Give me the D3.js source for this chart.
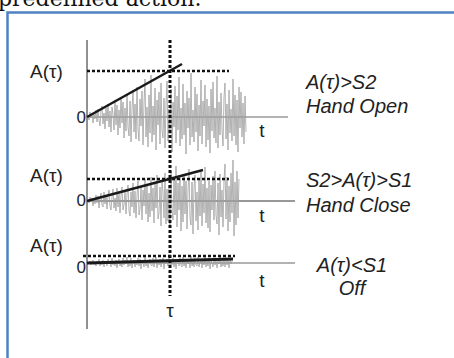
<!DOCTYPE html>
<html>
<head>
<meta charset="utf-8">
<script src="https://cdn.jsdelivr.net/npm/d3@7"></script>
<style>
  body { margin: 0; background: #fff; }
  svg { display: block; }
</style>
</head>
<body>
<div id="chart"></div>
<script>
// signal data (amplitude units ~ 1px)
const tau = 41.5
const thresholds = [46, 22, 7]
const rampEnds = [[47.5, 53], [58, 31], [73, 4]]
const thresholdSpans = [[0, 71], [0, 71], [-2, 74]]
const axisEnds = [100.5, 104, 104]
const conditionTop = ["A(τ)>S2", "S2>A(τ)>S1", "A(τ)<S1"]
const conditionBottom = ["Hand Open", "Hand Close", "Off"]

const noise1 = [0,2,-3,5,-1,4,-6,3,-2,7,
  -5,8,-3,-9,6,11,-7,4,-12,9,
  -4,13,-10,6,-15,10,3,-13,17,-8,
  12,-18,7,-11,20,-6,15,-21,9,-14,
  23,-10,-19,16,-25,8,27,-15,13,-22,
  30,-12,-24,18,-9,26,-28,14,38,-20,
  10,-30,22,-16,42,-25,11,-18,29,-33,
  17,-8,25,-27,34,-14,-21,19,-31,12,
  36,-24,8,-17,28,-35,15,-10,31,-26,
  21,-13,40,-29,9,-22,33,-18,14,-37,
  26,-11,19,-28,44,-20,7,-25,30,-15,
  23,-34,12,-19,37,-27,16,-9,32,-30,
  18,-23,11,-36,28,-14,35,-21,9,-26,
  41,-31,15,-18,24,-12,-29,20,34,-22,
  13,-33,27,-16,8,-24,38,-19,22,-28,
  17,-35,30,-11,25,-20,14,-27,21,-15]
const noise2 = [0,2,-2,4,-1,3,-5,2,-3,6,
  -2,5,-7,3,8,-4,-6,9,-3,5,
  -8,6,11,-5,-9,4,12,-7,3,-10,
  13,-6,8,-12,5,14,-9,-4,11,-13,
  7,16,-10,-15,9,-6,18,-12,10,-17,
  6,20,-14,-8,15,-19,11,-5,22,-13,
  17,-21,8,-16,24,-10,13,-22,19,-7,
  26,-18,-12,14,-25,21,9,-17,28,-23,
  12,-20,16,-27,30,-11,-19,23,-14,35,
  -26,18,-9,24,-30,15,-21,27,-13,20,
  -28,11,32,-17,-24,19,-33,14,26,-20,
  9,-29,22,-15,29,-25,17,-12,34,-22,
  13,-27,20,-31,16,-9,25,-19,30,-14,
  -23,18,-34,27,-16,11,-26,21,37,-18,
  24,-30,15,-21,28,-12,41,-35,19,-24,
  30,-17,22]
const noise3 = [0,1,-1,2,-2,1,3,-2,0,-3,
  2,-1,4,-3,1,-2,3,-4,2,0,
  -3,4,-1,2,-4,5,-2,1,-3,3,
  -5,2,4,-3,0,-4,5,-2,3,-1,
  6,-4,2,-3,5,-5,1,3,-4,2,
  -2,5,-3,4,-6,2,0,-4,6,-3,
  3,-5,1,4,-2,-3,5,-4,2,6,
  -5,3,-2,4,-4,1,5,-6,3,-1,
  4,-3,6,-5,2,-2,5,-4,3,-6,
  1,4,-3,5,-2,-4,6,-3,2,-5,
  4,-1,3,-5,7,-3,2,-4,5,-2,
  -3,6,-4,1,4,-5,3,-2,6,-4,
  2,-3,5,-6,3,0,-4,5,-2,4,
  -5,3,-1,6,-4,2,-3,5,-4,3,
  -2,4,-5,3,-1,2]
const noiseStep = 0.5
const noises = [noise1, noise2, noise3]

// layout
const W = 454, H = 358
const baselines = [117, 201, 263]
const zeroBase = [123, 206, 273]
const tBase = [137, 222, 287]
const aLabelY = [78, 182, 252]
const condY = [[89, 113], [187, 212], [272, 295]]
const axisColors = ["#999", "#333", "#999"]

const svg = d3.select("#chart").append("svg")
  .attr("width", W).attr("height", H)

// clipped caption line from the page above
svg.append("text")
  .attr("x", -2).attr("y", 6)
  .attr("font-family", "DejaVu Serif, serif")
  .attr("font-size", 22)
  .attr("fill", "#111")
  .text("predefined action.")

// blue frame
svg.append("path")
  .attr("d", "M7.5,358 L7.5,12.5 L454,12.5")
  .attr("fill", "none")
  .attr("stroke", "#4f81c4")
  .attr("stroke-width", 2.5)

const x = d3.scaleLinear().domain([0, 100]).range([87, 287])

// vertical axis
svg.append("line")
  .attr("x1", x(0)).attr("x2", x(0))
  .attr("y1", 40).attr("y2", 329)
  .attr("stroke", "#222").attr("stroke-width", 1)

noises.forEach((noise, i) => {
  let base = baselines[i]
  let y = d3.scaleLinear().domain([0, 1]).range([base, base - 1])
  let g = svg.append("g")

  // horizontal axis
  g.append("line")
    .attr("x1", x(0)).attr("x2", x(axisEnds[i]))
    .attr("y1", y(0)).attr("y2", y(0))
    .attr("stroke", axisColors[i])
    .attr("stroke-width", i == 1 ? 1 : 1.5)

  // emg noise
  let line = d3.line()
    .x((d, k) => x(k * noiseStep))
    .y(d => y(d))
  g.append("path")
    .datum(noise)
    .attr("d", line)
    .attr("fill", "none")
    .attr("stroke", "#a0a0a0")
    .attr("stroke-width", 0.8)

  // threshold
  g.append("line")
    .attr("x1", x(thresholdSpans[i][0])).attr("x2", x(thresholdSpans[i][1]))
    .attr("y1", y(thresholds[i])).attr("y2", y(thresholds[i]))
    .attr("stroke", "#111")
    .attr("stroke-width", 2.5)
    .attr("stroke-dasharray", "3,2")

  // ramp A(t)
  g.append("line")
    .attr("x1", x(0)).attr("y1", y(0))
    .attr("x2", x(rampEnds[i][0])).attr("y2", y(rampEnds[i][1]))
    .attr("stroke", "#1a1a1a")
    .attr("stroke-width", i == 2 ? 3 : 2.5)

  g.append("text")
    .attr("x", 30).attr("y", aLabelY[i])
    .attr("font-family", "Liberation Sans, Arial, sans-serif")
    .attr("font-size", 19)
    .attr("fill", "#222")
    .text("A(τ)")

  g.append("text")
    .attr("x", 86).attr("y", zeroBase[i])
    .attr("text-anchor", "end")
    .attr("font-family", "Liberation Sans, Arial, sans-serif")
    .attr("font-size", 17)
    .attr("fill", "#223")
    .text("0")

  g.append("text")
    .attr("x", 262).attr("y", tBase[i])
    .attr("text-anchor", "middle")
    .attr("font-family", "Liberation Sans, Arial, sans-serif")
    .attr("font-size", 19)
    .attr("fill", "#222")
    .text("t")

  let cond = g.append("g")
    .attr("font-family", "Liberation Sans, Arial, sans-serif")
    .attr("font-size", 20)
    .attr("font-style", "italic")
    .attr("fill", "#222")
  if (i < 2) {
    cond.append("text").attr("x", 306).attr("y", condY[i][0]).text(conditionTop[i])
    cond.append("text").attr("x", 306).attr("y", condY[i][1]).text(conditionBottom[i])
  } else {
    cond.append("text").attr("x", 352).attr("y", condY[i][0]).attr("text-anchor", "middle").text(conditionTop[i])
    cond.append("text").attr("x", 352).attr("y", condY[i][1]).attr("text-anchor", "middle").text(conditionBottom[i])
  }
})

// tau marker
svg.append("line")
  .attr("x1", x(tau)).attr("x2", x(tau))
  .attr("y1", 40).attr("y2", 296)
  .attr("stroke", "#111")
  .attr("stroke-width", 3)
  .attr("stroke-dasharray", "3,2")

svg.append("text")
  .attr("x", x(tau)).attr("y", 317)
  .attr("text-anchor", "middle")
  .attr("font-family", "Liberation Sans, Arial, sans-serif")
  .attr("font-size", 19)
  .attr("fill", "#222")
  .text("τ")
</script>
</body>
</html>
